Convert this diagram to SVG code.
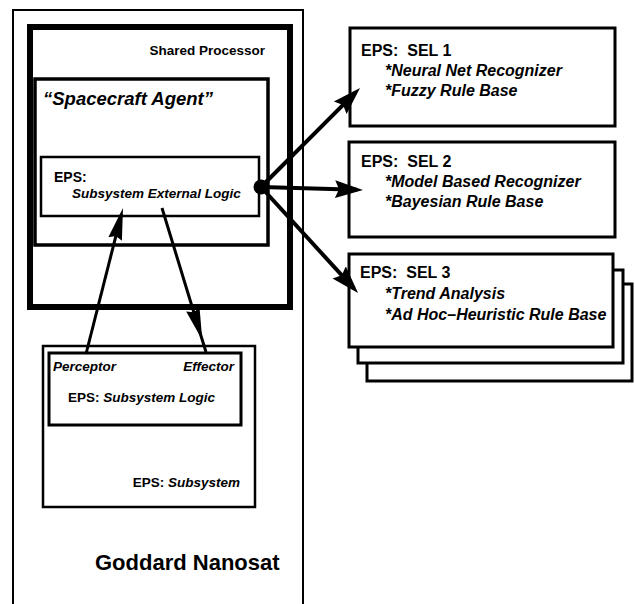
<svg xmlns="http://www.w3.org/2000/svg" width="635" height="604" viewBox="0 0 635 604">
<style>
.box{fill:none;stroke:#000}
.wbox{fill:#fff;stroke:#000;stroke-width:3}
.b{font-family:"Liberation Sans",Arial,sans-serif;font-weight:bold;fill:#000}
.bi{font-family:"Liberation Sans",Arial,sans-serif;font-weight:bold;font-style:italic;fill:#000}
.pre{white-space:pre}
.conn{fill:none;stroke:#000}
</style>
<defs>
<marker id="ahBig" markerUnits="userSpaceOnUse" markerWidth="30" markerHeight="20" refX="22" refY="10" orient="auto">
<path d="M0,1 L28,10 L0,19 L4,10 Z" fill="#000"/>
</marker>
<marker id="ahSmall" markerUnits="userSpaceOnUse" markerWidth="34" markerHeight="16" refX="26" refY="8" orient="auto">
<path d="M0,1 L32,8 L0,15 L3,8 Z" fill="#000"/>
</marker>
</defs>
<rect width="635" height="604" fill="#fff"/>

<g id="goddard-nanosat">
<rect class="box" x="13" y="10" width="290" height="620" stroke-width="2"/>
<text class="b" x="95" y="570" font-size="22">Goddard Nanosat</text>
</g>

<g id="shared-processor">
<rect class="box" x="30" y="27" width="260" height="280" stroke-width="6"/>
<text class="b" x="265" y="55" font-size="13.5" text-anchor="end">Shared Processor</text>
</g>

<g id="spacecraft-agent">
<rect class="box" x="35" y="79" width="233" height="166" stroke-width="3.5"/>
<text class="bi" x="43" y="105" font-size="18.5">“Spacecraft Agent”</text>
</g>

<g id="external-logic">
<rect class="box" x="41" y="157" width="218" height="59" stroke-width="2.5"/>
<text class="b" x="54" y="182" font-size="14">EPS:</text>
<text class="bi" x="72" y="198" font-size="13.5">Subsystem External Logic</text>
</g>

<g id="subsystem">
<rect class="box" x="43" y="346" width="212" height="161" stroke-width="2.5"/>
<text x="240" y="487" font-size="13.5" text-anchor="end"><tspan class="b">EPS: </tspan><tspan class="bi">Subsystem</tspan></text>
</g>

<g id="subsystem-logic">
<rect class="box" x="49" y="353" width="192" height="72" stroke-width="3"/>
<text class="bi" x="53" y="371" font-size="13.5">Perceptor</text>
<text class="bi" x="234" y="371" font-size="13.5" text-anchor="end">Effector</text>
<text x="68" y="402" font-size="13.5"><tspan class="b">EPS: </tspan><tspan class="bi">Subsystem Logic</tspan></text>
</g>

<g id="sel1">
<rect class="wbox" x="350" y="28" width="265" height="98"/>
<text class="b pre" x="361" y="56" font-size="16">EPS:  SEL 1</text>
<text class="bi" x="385" y="76" font-size="16">*Neural Net Recognizer</text>
<text class="bi" x="385" y="96" font-size="16">*Fuzzy Rule Base</text>
</g>

<g id="sel2">
<rect class="wbox" x="349" y="142" width="266" height="95"/>
<text class="b pre" x="361" y="167" font-size="16">EPS:  SEL 2</text>
<text class="bi" x="385" y="187" font-size="16">*Model Based Recognizer</text>
<text class="bi" x="385" y="207" font-size="16">*Bayesian Rule Base</text>
</g>

<g id="sel3">
<rect class="wbox" x="367" y="284" width="265" height="97" stroke-width="2.5"/>
<rect class="wbox" x="358" y="270" width="265" height="93"/>
<rect class="wbox" x="349" y="254" width="264" height="93"/>
<text class="b pre" x="360" y="278" font-size="16">EPS:  SEL 3</text>
<text class="bi" x="385" y="299" font-size="16">*Trend Analysis</text>
<text class="bi" x="385" y="320" font-size="16">*Ad Hoc–Heuristic Rule Base</text>
</g>

<g id="connectors">
<path class="conn" d="M261,187 L355.8,92.2" stroke-width="4" marker-end="url(#ahBig)"/>
<path class="conn" d="M261,187 L357,189.8" stroke-width="4" marker-end="url(#ahBig)"/>
<path class="conn" d="M261,187 L354,288.6" stroke-width="4" marker-end="url(#ahBig)"/>
<circle cx="261" cy="187" r="7.5" fill="#000"/>
<path class="conn" d="M86,354 L121.5,213.8" stroke-width="3" marker-end="url(#ahSmall)"/>
<path class="conn" d="M162,208 L200.5,334.3 L206,352" stroke-width="3" marker-mid="url(#ahSmall)"/>
</g>
</svg>
